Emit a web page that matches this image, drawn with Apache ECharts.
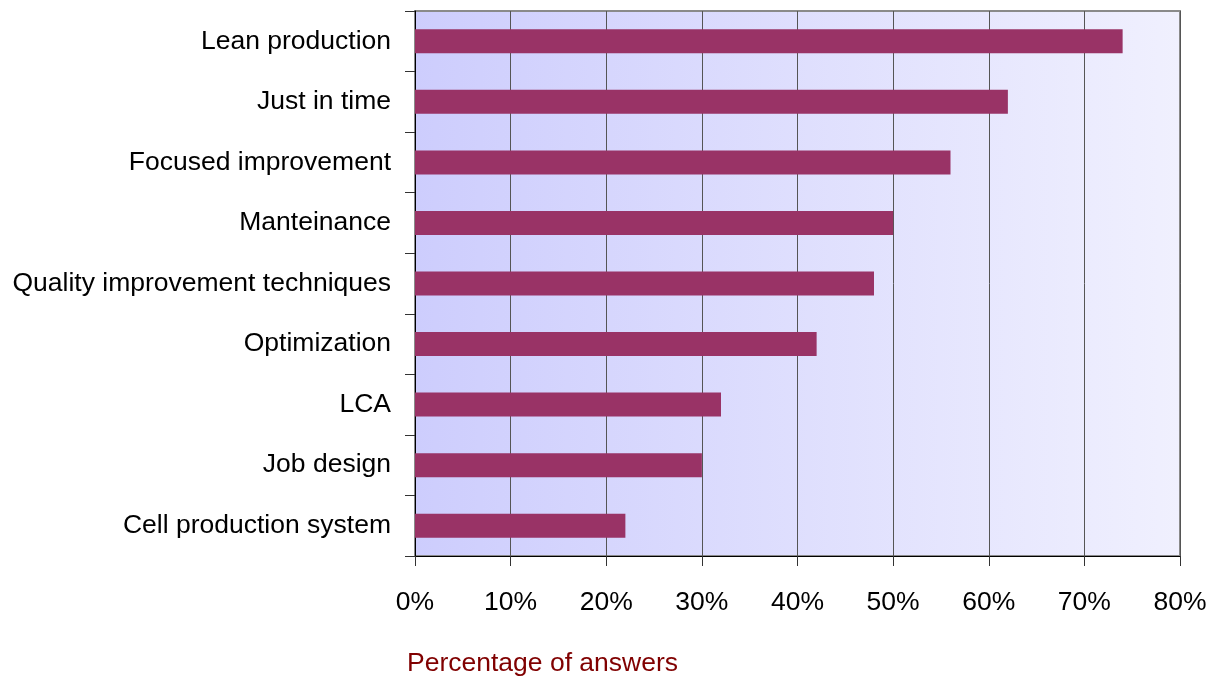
<!DOCTYPE html>
<html>
<head>
<meta charset="utf-8">
<script src="https://cdn.jsdelivr.net/npm/echarts@6/dist/echarts.min.js"></script>
<style>
  html, body { margin: 0; padding: 0; background: #ffffff; }
  #chart { width: 1216px; height: 683px; }
</style>
</head>
<body>
<div id="chart"></div>
<script>
// Survey answers per technique (share of respondents, %)
const categories = [
  'Lean production',
  'Just in time',
  'Focused improvement',
  'Manteinance',
  'Quality improvement techniques',
  'Optimization',
  'LCA',
  'Job design',
  'Cell production system'
];
const shares = [74, 62, 56, 50, 48, 42, 32, 30, 22];
const axisName = 'Percentage of answers';

const chart = echarts.init(document.getElementById('chart'));
const font = 'Liberation Sans, Arial, sans-serif';
const size = 26.5;

chart.setOption({
  animation: false,
  grid: {
    left: 415, right: 36, top: 11, bottom: 127,
    show: true,
    borderColor: '#8a8a8a',
    borderWidth: 2,
    backgroundColor: new echarts.graphic.LinearGradient(0, 0, 1, 0, [
      { offset: 0, color: '#cdcdfd' },
      { offset: 1, color: '#f0f0fe' }
    ])
  },
  xAxis: {
    type: 'value',
    min: 0, max: 80, interval: 10,
    name: axisName,
    nameLocation: 'start',
    nameGap: 0,
    nameTextStyle: {
      color: '#800000', fontFamily: font, fontSize: size,
      align: 'left', verticalAlign: 'top', padding: [94, 0, 0, -8]
    },
    axisLine: { show: true, lineStyle: { color: '#000', width: 1 } },
    axisTick: { show: true, length: 10, lineStyle: { color: '#333' } },
    axisLabel: {
      formatter: '{value}%', color: '#000', fontFamily: font, fontSize: size, margin: 33
    },
    splitLine: { show: true, lineStyle: { color: '#555', width: 1 } }
  },
  yAxis: {
    type: 'category',
    data: categories,
    inverse: true,
    axisLine: { show: true, lineStyle: { color: '#000', width: 1 } },
    axisTick: { show: true, length: 10, lineStyle: { color: '#333' } },
    axisLabel: { color: '#000', fontFamily: font, fontSize: size, margin: 24 },
    splitLine: { show: false }
  },
  series: [{
    type: 'bar',
    data: shares,
    barWidth: 24,
    itemStyle: { color: '#993366' }
  }]
});
</script>
</body>
</html>
